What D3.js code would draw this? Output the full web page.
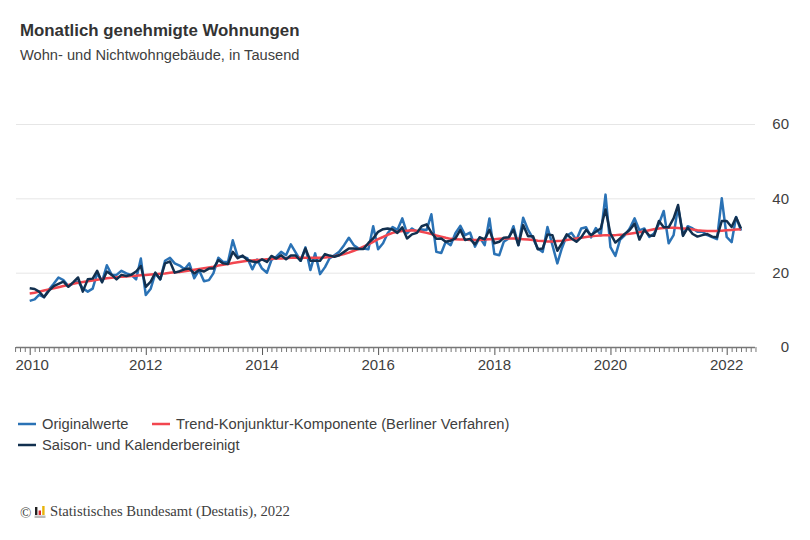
<!DOCTYPE html>
<html><head><meta charset="utf-8">
<script src="https://cdnjs.cloudflare.com/ajax/libs/d3/7.8.5/d3.min.js"></script>
<style>
html,body{margin:0;padding:0;background:#fff}
svg{display:block}
text{font-family:"Liberation Sans",Arial,sans-serif;fill:#404040}
</style></head><body>
<svg id="c" width="810" height="540"></svg>
<script>
const title = "Monatlich genehmigte Wohnungen";
const subtitle = "Wohn- und Nichtwohngebäude, in Tausend";
const source = "Statistisches Bundesamt (Destatis), 2022";
const yTicks = [0, 20, 40, 60];
const xLabelYears = [2010, 2012, 2014, 2016, 2018, 2020, 2022];
const seriesNames = ["Originalwerte", "Trend-Konjunktur-Komponente (Berliner Verfahren)", "Saison- und Kalenderbereinigt"];
const seriesColors = ["#2a72b5", "#f2464f", "#12304f"];

const original = [
12.4,12.8,14,13.4,15.4,17,18.7,18,16.4,17.1,17.6,15.8,
14.9,15.7,19.8,17.6,22,19.4,19.4,20.5,19.8,19.4,18.2,23.8,
14,15.7,19.8,18.2,23.2,24,22.5,21.9,20.9,22.5,18.5,20.7,
17.7,18,19.8,24,22.9,22.9,28.7,24.3,24.3,23.9,20.9,23.5,
21.1,20,23.4,24.3,25.6,24.7,27.6,25.4,23.2,26.8,20.7,25.2,
19.6,21.5,23.8,24.7,25.6,27.4,29.4,27.4,26.5,26.5,26.3,32.5,
26.3,27.9,30.6,32.3,31.5,34.6,30.6,31.9,31,31.6,31.5,35.7,
25.6,25.3,28.3,27.4,30.6,32.6,30.1,30.8,27,29.5,27.4,34.6,
25,24.7,28.3,29.2,32.5,27.4,34.8,31.5,29.2,26.5,25.6,32.3,
27.4,22.5,26.5,30,30.7,28.8,31.9,32.2,29.5,32,30.1,41,
26.9,24.5,28.8,30.1,31.9,34.6,31.4,31.9,29.6,30.5,33.2,36.6,
27.9,30.1,37.7,30.1,32.5,31.9,31,31,30.1,29.6,29,40,
29.6,28.2,35,31.3];

const trend = [
14.4,14.6,14.9,15.2,15.5,15.8,16.1,16.4,16.7,17,17.3,17.5,
17.7,17.9,18.1,18.3,18.5,18.6,18.8,18.9,19,19.1,19.2,19.3,
19.4,19.5,19.6,19.7,19.8,20,20.1,20.2,20.4,20.6,20.8,21,
21.2,21.4,21.6,21.9,22.1,22.3,22.6,22.8,23,23.2,23.3,23.4,
23.5,23.6,23.7,23.8,23.8,23.9,24,24,24,24,24,24,
24,24.1,24.2,24.4,24.7,25,25.4,25.9,26.4,27,27.6,28.3,
29,29.6,30.2,30.7,31,31.2,31.3,31.4,31.3,31,30.7,30.4,
30,29.7,29.4,29.1,29,28.9,28.9,28.8,28.8,28.8,28.9,29,
29,29.1,29.2,29.2,29.2,29.1,29,28.9,28.8,28.6,28.5,28.4,
28.4,28.5,28.6,28.8,29,29.2,29.4,29.6,29.8,29.9,30,30.1,
30.1,30.1,30.2,30.3,30.5,30.7,30.9,31.1,31.4,31.7,31.9,32,
32.1,32.1,32,31.9,31.8,31.6,31.4,31.3,31.2,31.2,31.2,31.3,
31.4,31.5,31.6,31.7];

const adjusted = [
15.8,15.6,14.9,13.4,15.1,16.4,17,17.6,16.2,17.4,18.7,14.9,
18.2,18.4,20.5,17.4,20.3,19.4,18.2,19.4,19.1,19.4,20.3,21.8,
16.2,17.6,20,18.2,22.5,23,20,20.4,20.9,21.1,19.8,20.7,
20.3,21.1,21.1,23.4,22.5,22.3,25.6,23.9,24.6,23.4,23,22.8,
23.6,22.9,24.5,23.8,24.7,23.6,24.6,24.6,23.2,26.5,23.2,23.2,
23.2,25,24.6,24.3,24.7,25.6,26.5,26.5,26.4,26.4,28,29.2,
31,31.7,31.9,31.6,30.7,32.2,29.2,30.3,30.7,32.5,33,30.8,
29.1,29.2,28.3,28.6,29.2,31.5,28.8,29.1,27.6,29.5,29,31.5,
27.9,28.3,29.4,29.5,31.6,27.4,32.8,29.8,29.8,26.3,26.5,30.3,
30.1,25.9,27.9,30.3,29.2,28.3,29.5,31.5,30.1,31,31.9,37,
30.5,28.1,29.2,30.5,31.5,33.2,28.9,31.5,30,29.9,33.9,32.2,
32.2,34.6,38.2,29.9,32.1,30.4,29.7,30.1,30.4,29.7,29.5,33.9,
33.9,32.3,34.9,31.9];

const svg = d3.select("#c");
const months = original.map((_, i) => new Date(2010, i, 1));
const x = d3.scaleTime().domain([new Date(2010,0,1), new Date(2022,0,1)]).range([29.7, 726.7]);
const y = d3.scaleLinear().domain([0, 60]).range([347, 124]);
const plotLeft = 16, plotRight = 755;

svg.append("text").attr("x",20).attr("y",35.5).attr("font-size",16.85).attr("font-weight","bold").style("fill","#333").text(title);
svg.append("text").attr("x",20).attr("y",60).attr("font-size",14.65).text(subtitle);

// grid + y labels
const gy = svg.append("g").attr("transform",`translate(${plotRight},0)`)
  .call(d3.axisRight(y).tickValues(yTicks).tickSize(0).tickPadding(0).tickFormat(d3.format("d")));
gy.select(".domain").remove();
gy.selectAll("text").attr("x",34).attr("text-anchor","end").attr("font-size",15).attr("font-family",null).style("fill","#404040");
svg.append("g").selectAll("line").data(yTicks.filter(d=>d>0)).join("line")
  .attr("x1",plotLeft).attr("x2",plotRight).attr("y1",d=>y(d)+.5).attr("y2",d=>y(d)+.5)
  .attr("stroke","#e6e6e6").attr("stroke-width",1);

// x axis
const monthTicks = d3.timeMonth.range(new Date(2009,9,1), new Date(2022,7,1));
const gx = svg.append("g").attr("transform","translate(0,347)")
  .call(d3.axisBottom(x).tickValues(monthTicks).tickSize(5).tickFormat(""));
gx.select(".domain").remove();
gx.selectAll("line").attr("stroke","#777").attr("stroke-width",1);
gx.selectAll(".tick").filter(d=>d.getMonth()===0 && d.getFullYear()%2===0).select("line").attr("y2",8).attr("stroke","#555");
svg.append("line").attr("x1",plotLeft).attr("x2",plotRight).attr("y1",347.5).attr("y2",347.5).attr("stroke","#777").attr("stroke-width",1.5);
svg.append("g").selectAll("text").data(xLabelYears).join("text")
  .attr("x",d=>x(new Date(d,0,1)) + (d===2010 ? 2.5 : 0)).attr("y",370).attr("text-anchor","middle").attr("font-size",15).text(d=>d);

// lines
const line = d3.line().x((d,i)=>x(months[i])).y(d=>y(d));
const drawOrder = [[original,0,2.5],[trend,1,2.5],[adjusted,2,2.5]];
svg.append("g").selectAll("path").data(drawOrder).join("path")
  .attr("d",d=>line(d[0])).attr("fill","none").attr("stroke",d=>seriesColors[d[1]])
  .attr("stroke-width",d=>d[2]).attr("stroke-linejoin","round");

// legend
const legendPos = [[18,424],[152,424],[18,445]];
const lg = svg.append("g").selectAll("g").data(seriesNames).join("g")
  .attr("transform",(d,i)=>`translate(${legendPos[i][0]},${legendPos[i][1]})`);
lg.append("line").attr("x1",0).attr("x2",18).attr("y1",0).attr("y2",0)
  .attr("stroke",(d,i)=>seriesColors[i]).attr("stroke-width",2.5);
lg.append("text").attr("x",24).attr("y",5).attr("font-size",14.7).text(d=>d);

// footer
const ft = svg.append("g");
ft.append("text").attr("x",20).attr("y",518).attr("font-size",15).style("font-family","'Liberation Serif',serif").text("©");
const logoBars = [[35,2.4,8,"#222"],[38.6,2.4,4.5,"#d9262e"],[42.2,2.4,9,"#e8b30a"]];
ft.selectAll("rect.b").data(logoBars).join("rect").attr("class","b")
  .attr("x",d=>d[0]).attr("y",d=>515-d[2]).attr("width",d=>d[1]).attr("height",d=>d[2]).attr("fill",d=>d[3]);
ft.append("rect").attr("x",34.5).attr("y",515.5).attr("width",11).attr("height",2.5).attr("fill","#bbb");
ft.append("text").attr("x",50).attr("y",516).attr("font-size",14.7).style("font-family","'Liberation Serif',serif").text(source);
</script>
</body></html>
